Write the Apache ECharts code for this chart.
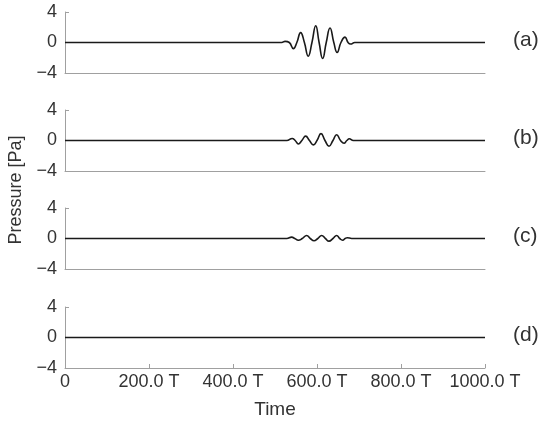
<!DOCTYPE html>
<html>
<head>
<meta charset="utf-8">
<script src="https://cdn.jsdelivr.net/npm/echarts@6/dist/echarts.min.js"></script>
<style>html,body{margin:0;padding:0;background:#fff}#c{width:550px;height:432px}</style>
</head>
<body>
<div id="c"></div>
<script>
// Data
const panelLabels = ['(a)', '(b)', '(c)', '(d)'];
const yTicks = [-4, 0, 4];
const xTicks = [0, 200, 400, 600, 800, 1000];

const timeA = [0, 516, 524, 534, 543.7, 552, 561, 570, 579, 588, 597, 605, 613.5, 622, 631, 640, 648, 657, 666.7, 674, 680, 690, 1000];
const pressA = [0, 0, 0.15, 0, -0.8, 0, 1.3, 0, -1.8, 0, 2.2, 0, -2.1, 0, 1.9, 0, -1.3, 0, 0.7, 0, -0.2, 0, 0];

const timeB = [0, 528, 541, 548, 555.6, 564, 573, 582, 591.3, 600, 609.5, 619, 628.6, 638, 646.8, 656, 664.3, 671, 677, 686.5, 1000];
const pressB = [0, 0, 0.27, 0, -0.45, 0, 0.58, 0, -0.58, 0, 0.9, 0, -0.75, 0, 0.75, 0, -0.36, 0, 0.22, 0, 0];

const timeC = [0, 528, 539.7, 547, 555.6, 565, 575.4, 584, 592.9, 602, 611.1, 620, 628.6, 638, 646.8, 654, 661.1, 667, 672.2, 682.5, 1000];
const pressC = [0, 0, 0.18, 0, -0.22, 0, 0.4, 0, -0.3, 0, 0.4, 0, -0.35, 0, 0.4, 0, -0.22, 0, 0.1, 0, 0];

const timeD = [0, 1000];
const pressD = [0, 0];

const times = [timeA, timeB, timeC, timeD];
const press = [pressA, pressB, pressC, pressD];

const FONT = 'Liberation Sans, Arial, Helvetica, sans-serif';
const TXT = '#333';
const AXC = '#a0a0a0';
const tops = [12, 110, 208, 307];
const H = 61;

const grids = [], xAxes = [], yAxes = [], series = [], graphics = [];
for (let i = 0; i < 4; i++) {
  grids.push({left: 65, right: 65, top: tops[i], height: H, containLabel: false});
  const last = i === 3;
  xAxes.push({
    type: 'value', gridIndex: i, min: xTicks[0], max: xTicks[xTicks.length - 1], interval: xTicks[1] - xTicks[0],
    axisLine: {show: true, onZero: false, lineStyle: {color: AXC, width: 1}},
    axisTick: {show: last, inside: true, length: 4, lineStyle: {color: AXC}},
    axisLabel: {show: last, margin: 5, fontFamily: FONT, fontSize: 18, color: TXT,
      formatter: v => v === 0 ? '0' : v.toFixed(1) + ' T'},
    splitLine: {show: false}
  });
  yAxes.push({
    type: 'value', gridIndex: i, min: yTicks[0], max: yTicks[yTicks.length - 1], interval: yTicks[1] - yTicks[0],
    axisLine: {show: true, onZero: false, lineStyle: {color: AXC, width: 1}},
    axisTick: {show: true, inside: true, length: 4, lineStyle: {color: AXC}},
    axisLabel: {margin: 8, fontFamily: FONT, fontSize: 18, color: TXT,
      formatter: v => v < 0 ? '\u2212' + Math.abs(v) : String(v)},
    splitLine: {show: false}
  });
  series.push({
    type: 'line', xAxisIndex: i, yAxisIndex: i, smooth: 0.5, symbol: 'none',
    lineStyle: {color: '#1a1a1a', width: 1.6},
    data: times[i].map((t, k) => [t, press[i][k]]),
    z: 5
  });
  graphics.push({type: 'text', left: 513, top: tops[i] + H / 2 - 13,
    style: {text: panelLabels[i], font: '21px ' + FONT, fill: TXT}});
}
graphics.push({type: 'text', x: 16, y: 190, rotation: Math.PI / 2,
  style: {text: 'Pressure [Pa]', font: '18px ' + FONT, fill: TXT, textAlign: 'center', textVerticalAlign: 'middle'}});
graphics.push({type: 'text', x: 275, y: 410,
  style: {text: 'Time', font: '19px ' + FONT, fill: TXT, textAlign: 'center', textVerticalAlign: 'middle'}});

const chart = echarts.init(document.getElementById('c'), null, {renderer: 'canvas'});
chart.setOption({
  animation: false,
  backgroundColor: '#fff',
  grid: grids, xAxis: xAxes, yAxis: yAxes, series: series, graphic: graphics
});
</script>
</body>
</html>
